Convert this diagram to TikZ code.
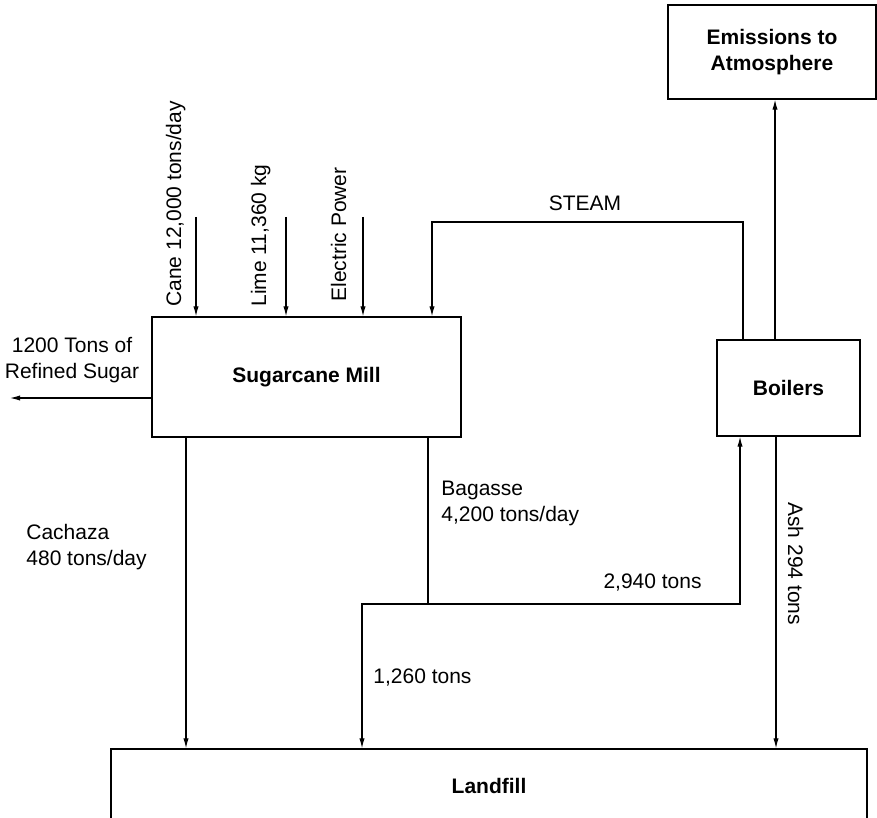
\documentclass[tikz,border=0pt]{standalone}
\usepackage{fontspec}
\setmainfont{Liberation Sans}
\usetikzlibrary{arrows.meta,calc}

\tikzset{
  box/.style={draw, line width=0.6pt, inner sep=0pt, align=center, font=\fontsize{10.5}{13}\selectfont\bfseries},
  flow/.style={line width=0.55pt},
  arr/.style={flow, -{Latex[length=5pt,width=2.6pt]}},
  lbl/.style={inner sep=0pt, font=\fontsize{10.5}{13}\selectfont},
}

\begin{document}
\begin{tikzpicture}[x=0.5pt, y=-0.5pt]
  \useasboundingbox (0,0) rectangle (877,818);
  \clip (0,0) rectangle (877,818);

  % process blocks
  \node[box, minimum width=154.5pt, minimum height=60pt] (mill) at (306.5,377) {Sugarcane Mill};
  \node[box, minimum width=71.5pt, minimum height=48pt] (boil) at (788.5,388) {Boilers};
  \node[box, minimum width=104pt, minimum height=47pt] (emis) at (772,52) {Emissions to\\Atmosphere};
  \node[box, minimum width=378pt, minimum height=37pt] (land) at (489,786) {Landfill};

  % free ends and bend points of the flow lines
  \coordinate (cane) at (196,217);
  \coordinate (lime) at (286,217);
  \coordinate (elec) at (363,217);
  \coordinate (stmout) at (743,222);
  \coordinate (stmin) at (432,222);
  \coordinate (emx) at (775,0);
  \coordinate (sugar) at (10,398);
  \coordinate (cachx) at (186,0);
  \coordinate (bag) at (428,604);
  \coordinate (bagl) at (362,604);
  \coordinate (bagr) at (740,604);
  \coordinate (ashx) at (776,0);

  % inputs to the mill
  \draw[arr] (cane) -- (cane |- mill.north);
  \draw[arr] (lime) -- (lime |- mill.north);
  \draw[arr] (elec) -- (elec |- mill.north);
  \draw[arr] (boil.north -| stmout) -- (stmout) -- (stmin) -- (stmin |- mill.north);

  % outputs
  \draw[arr] (emx |- boil.north) -- (emx |- emis.south);
  \draw[arr] (mill.west |- sugar) -- (sugar);
  \draw[arr] (cachx |- mill.south) -- (cachx |- land.north);
  \draw[flow] (bag |- mill.south) -- (bag);
  \draw[arr] (bag) -- (bagl) -- (bagl |- land.north);
  \draw[arr] (bag) -- (bagr) -- (bagr |- boil.south);
  \draw[arr] (ashx |- boil.south) -- (ashx |- land.north);

  % flow labels
  \node[lbl, rotate=90, anchor=base west] (lcane) at (181,307) {Cane 12,000 tons/day};
  \node[lbl, rotate=90, anchor=base west] (llime) at (266,307) {Lime 11,360 kg};
  \node[lbl, rotate=90, anchor=base west] (lelec) at (346,302) {Electric Power};
  \node[lbl] (lsteam) at (585,203) {STEAM};
  \node[lbl, align=center] (lsugar) at (72,360) {1200 Tons of\\Refined Sugar};
  \node[lbl, align=left, anchor=west] (lcach) at (26,547.5) {Cachaza\\480 tons/day};
  \node[lbl, align=left, anchor=west] (lbag) at (441,503) {Bagasse\\4,200 tons/day};
  \node[lbl, anchor=east] (l2940) at (702,583) {2,940 tons};
  \node[lbl, anchor=west] (l1260) at (373,678) {1,260 tons};
  \node[lbl, rotate=-90, anchor=base west] (lash) at (788,502) {Ash 294 tons};
\end{tikzpicture}
\end{document}
